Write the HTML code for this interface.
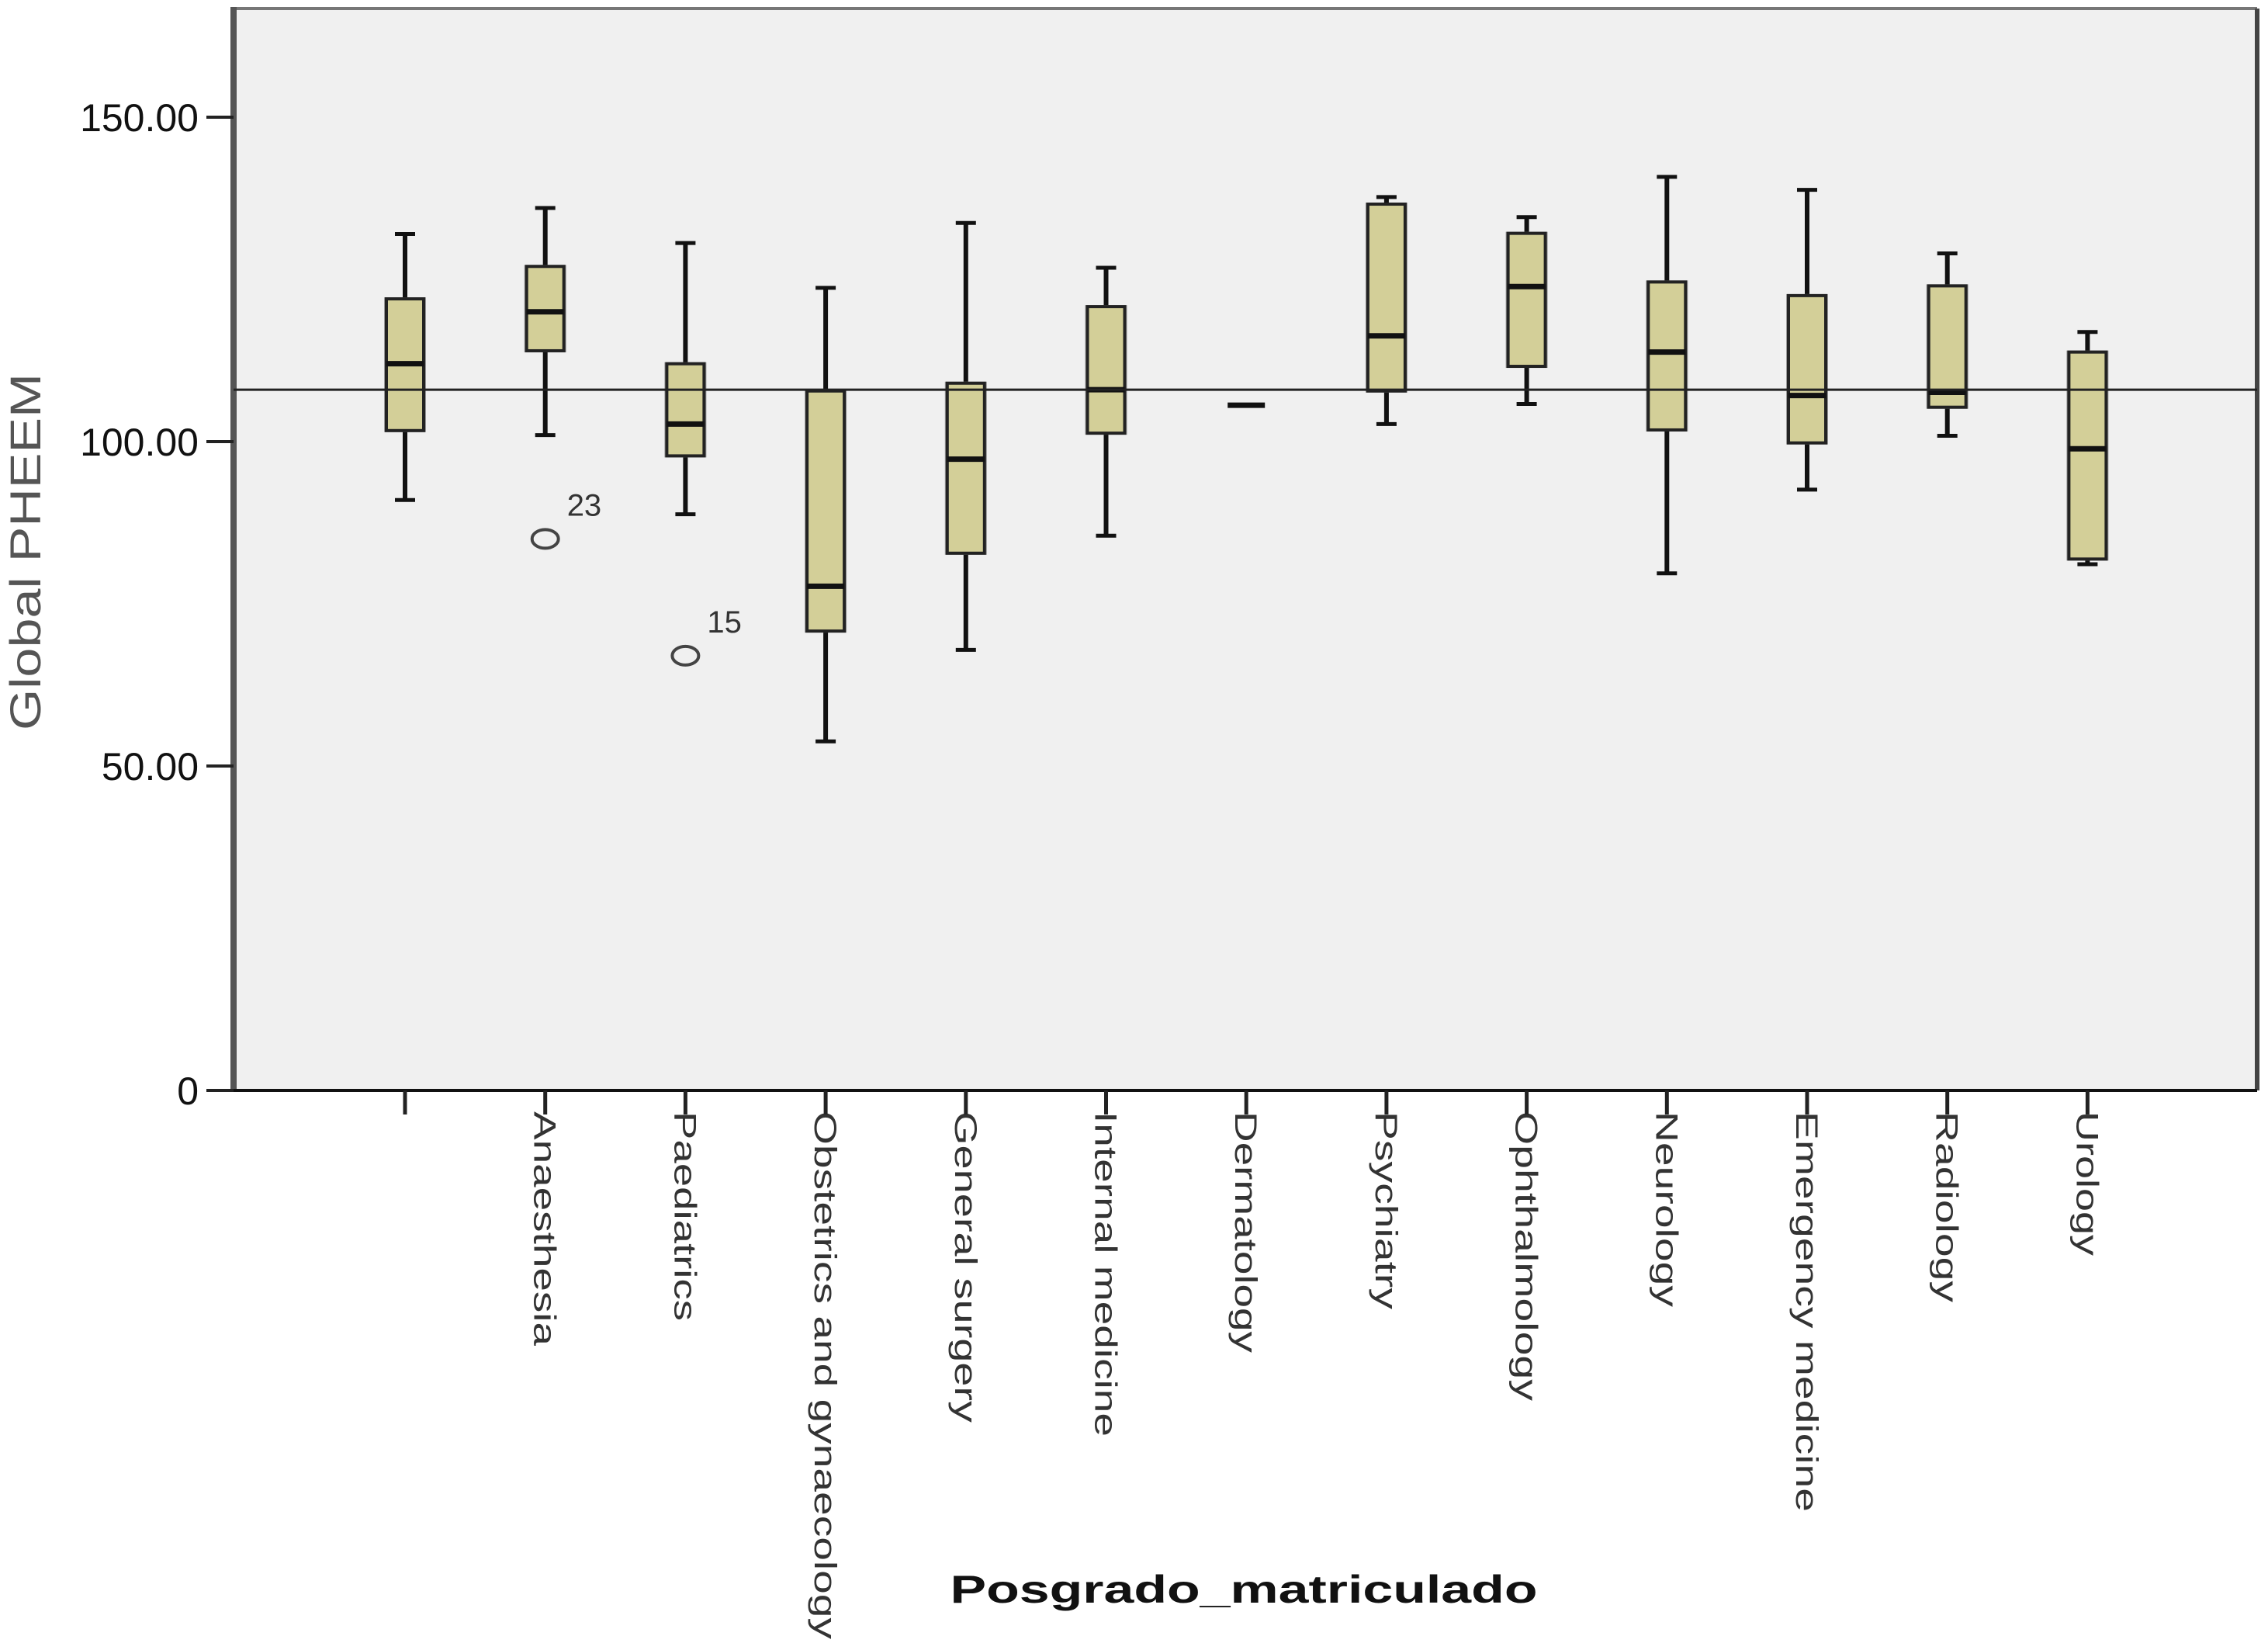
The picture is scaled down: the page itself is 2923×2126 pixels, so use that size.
<!DOCTYPE html>
<html><head><meta charset="utf-8">
<style>html,body{margin:0;padding:0;background:#fff}svg{display:block}</style>
</head><body>
<svg id="chart" width="2923" height="2126" viewBox="0 0 2923 2126" xmlns="http://www.w3.org/2000/svg" font-family="'Liberation Sans', sans-serif">
<rect x="301" y="11" width="2608" height="1394" fill="#f0f0f0"/>
<line x1="301" y1="11" x2="2909" y2="11" stroke="#777" stroke-width="4"/>
<line x1="2909" y1="11" x2="2909" y2="1405" stroke="#444" stroke-width="6"/>
<line x1="301" y1="9" x2="301" y2="1405" stroke="#555" stroke-width="8"/>
<line x1="266" y1="1405" x2="2909" y2="1405" stroke="#111" stroke-width="4"/>
<g id="yticks"></g>
<g id="boxes"></g>
<g id="xlabels"></g>
<text transform="translate(52,711) rotate(-90)" text-anchor="middle" font-size="56" fill="#555" textLength="460" lengthAdjust="spacingAndGlyphs">Global PHEEM</text>
<text x="1603" y="2065" text-anchor="middle" font-size="50" font-weight="bold" fill="#111" textLength="757" lengthAdjust="spacingAndGlyphs">Posgrado_matriculado</text>
</svg>
<script>
const categories=["","Anaesthesia","Paediatrics","Obstetrics and gynaecology","General surgery","Internal medicine","Dermatology","Psychiatry","Ophthalmology","Neurology","Emergency medicine","Radiology","Urology"];
const labelLengths=[0,302,270,680,401,419,311,255,373,252,516,246,186];
const whiskerHigh=[132,136,130.6,123.7,133.7,126.8,105.6,137.7,134.6,140.8,138.8,129,116.9];
const q3=[122,127,112,107.8,109,120.8,105.6,136.6,132.1,124.6,122.5,124,113.8];
const median=[112,120,102.7,77.7,97.3,108,105.6,116.3,123.9,113.8,107.1,107.6,98.9];
const q1=[101.7,114,97.8,70.8,82.8,101.3,105.6,107.8,111.6,101.8,99.8,105.3,81.9];
const whiskerLow=[91,101,88.8,53.8,67.9,85.5,105.6,102.7,105.8,79.7,92.6,100.9,81.1];
const outlierCat=[1,2];
const outlierVal=[85,67];
const outlierLabel=["23","15"];
const yTicks=[0,50,100,150];
const yTickLabels=["0","50.00","100.00","150.00"];
const meanLine=108;

const NS="http://www.w3.org/2000/svg";
const y0=1405, pxPerUnit=8.36;
function yScale(v){return y0-v*pxPerUnit;}
function xScale(i){return 522+i*180.7;}
function mk(tag,attrs,parent){const e=document.createElementNS(NS,tag);for(const k in attrs)e.setAttribute(k,attrs[k]);parent.appendChild(e);return e;}
const svg=document.getElementById('chart');
const yt=document.getElementById('yticks');
yTicks.forEach((v,i)=>{
  const l=mk('line',{x1:266,x2:301,y1:yScale(v),y2:yScale(v),stroke:'#222','stroke-width':4},yt);
  
  
  const t=mk('text',{x:256,y:yScale(v)+18,'text-anchor':'end','font-size':50,fill:'#111'},yt);
  t.textContent=yTickLabels[i];
  
  
});
const bx=document.getElementById('boxes');
const bw=48, cw=26;
categories.forEach((c,i)=>{
  const x=xScale(i);
  const g=mk('g',{},bx);
  
  
  if(whiskerHigh[i]!==whiskerLow[i]){
    mk('line',{x1:x,x2:x,y1:yScale(whiskerHigh[i]),y2:yScale(whiskerLow[i]),stroke:'#111','stroke-width':6},g);
    mk('line',{x1:x-cw/2,x2:x+cw/2,y1:yScale(whiskerHigh[i]),y2:yScale(whiskerHigh[i]),stroke:'#111','stroke-width':5},g);
    mk('line',{x1:x-cw/2,x2:x+cw/2,y1:yScale(whiskerLow[i]),y2:yScale(whiskerLow[i]),stroke:'#111','stroke-width':5},g);
    mk('rect',{x:x-bw/2-3,y:yScale(q3[i])-2,width:bw+6,height:yScale(q1[i])-yScale(q3[i])+4,fill:'#999'},g);
    mk('rect',{x:x-bw/2,y:yScale(q3[i]),width:bw,height:yScale(q1[i])-yScale(q3[i]),fill:'#d3cf98',stroke:'#222','stroke-width':4},g);
  }
  mk('line',{x1:x-bw/2,x2:x+bw/2,y1:yScale(median[i]),y2:yScale(median[i]),stroke:'#111','stroke-width':7},g);
  const tk=mk('line',{x1:x,x2:x,y1:1405,y2:1436,stroke:'#222','stroke-width':5},svg);
  
  
  if(c){
    const t=mk('text',{transform:`translate(${x-14},1432) rotate(90)`,'font-size':40,fill:'#333',textLength:labelLengths[i],lengthAdjust:'spacingAndGlyphs'},document.getElementById('xlabels'));
    t.textContent=c;
    
    
  }
});
const ml=mk('line',{x1:301,x2:2909,y1:yScale(meanLine),y2:yScale(meanLine),stroke:'#222','stroke-width':3},svg);


outlierCat.forEach((ci,k)=>{
  const x=xScale(ci), y=yScale(outlierVal[k]);
  const o=mk('ellipse',{cx:x,cy:y,rx:17,ry:12,fill:'none',stroke:'#444','stroke-width':4},svg);
  
  
  const t=mk('text',{x:x+28,y:y-30,'font-size':40,fill:'#333'},svg);
  t.textContent=outlierLabel[k];
  
  
});
</script>
</body></html>
